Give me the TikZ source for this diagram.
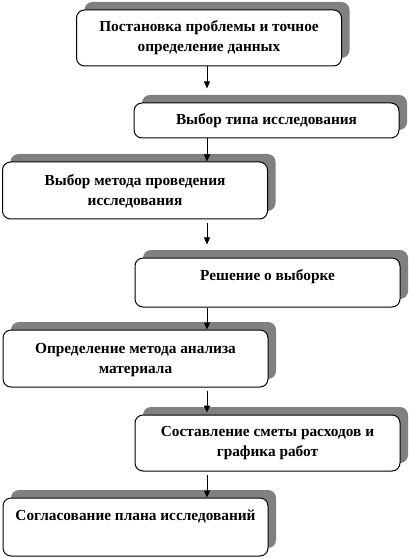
\documentclass[tikz,border=0pt]{standalone}
\usepackage{fontspec}
\setmainfont{Liberation Serif}
\usetikzlibrary{arrows.meta,shadows,positioning}

\definecolor{shadowgray}{RGB}{128,128,128}
\tikzset{
  stagebox/.style={draw, line width=0.75pt, fill=white, rounded corners=6pt,
    minimum width=198.75pt, inner sep=0pt,
    drop shadow={shadow xshift=6pt, shadow yshift=6pt, fill=shadowgray, opacity=1}},
  stagetext/.style={inner sep=0pt, align=center,
    font=\bfseries\fontsize{11.5}{15}\selectfont},
  flow/.style={->, line width=0.75pt}
}

\begin{document}
\begin{tikzpicture}[x=0.75pt, y=-0.75pt, line join=round,
    >={Triangle[length=5.25pt,width=4.5pt]}]
  \useasboundingbox (0,0) rectangle (409,559);
  \coordinate (axis) at (207,0);

  % boxes, right and left in turn
  \node[stagebox, minimum height=42pt]    (b1) at (209,38)    {};
  \node[stagebox, minimum height=26.25pt] (b2) at (266.5,120.5) {};
  \node[stagebox, minimum height=42.75pt] (b3) at (135,190.5) {};
  \node[stagebox, minimum height=36.75pt] (b4) at (267.5,282.5) {};
  \node[stagebox, minimum height=42.75pt] (b5) at (135.5,358.5) {};
  \node[stagebox, minimum height=42pt]    (b6) at (267.5,443)   {};
  \node[stagebox, minimum height=43.5pt]  (b7) at (135.5,527)   {};

  \node[stagetext, below=8pt of b1.north] (t1) {Постановка проблемы и точное\\определение данных};
  \node[stagetext, below=8pt of b2.north] (t2) {Выбор типа исследования};
  \node[stagetext, below=9.5pt of b3.north] (t3) {Выбор метода проведения\\исследования};
  \node[stagetext, below=8.5pt of b4.north] (t4) {Решение о выборке};
  \node[stagetext, below=10pt of b5.north] (t5) {Определение метода анализа\\материала};
  \node[stagetext, below=8.5pt of b6.north] (t6) {Составление сметы расходов и\\графика работ};
  \node[stagetext, below=9.5pt of b7.north] (t7) {Согласование плана исследований};

  % arrows down the middle
  \draw[flow, shorten >=10.5pt] (b1.south -| axis) -- (b2.north -| axis);
  \draw[flow] (b2.south -| axis) -- (b3.north -| axis);
  \draw[flow, shorten <=3pt, shorten >=9.75pt] (b3.south -| axis) -- (b4.north -| axis);
  \draw[flow] (b4.south -| axis) -- (b5.north -| axis);
  \draw[flow, shorten <=2.25pt, shorten >=1.5pt] (b5.south -| axis) -- (b6.north -| axis);
  \draw[flow, shorten <=2.25pt] (b6.south -| axis) -- (b7.north -| axis);
\end{tikzpicture}
\end{document}
